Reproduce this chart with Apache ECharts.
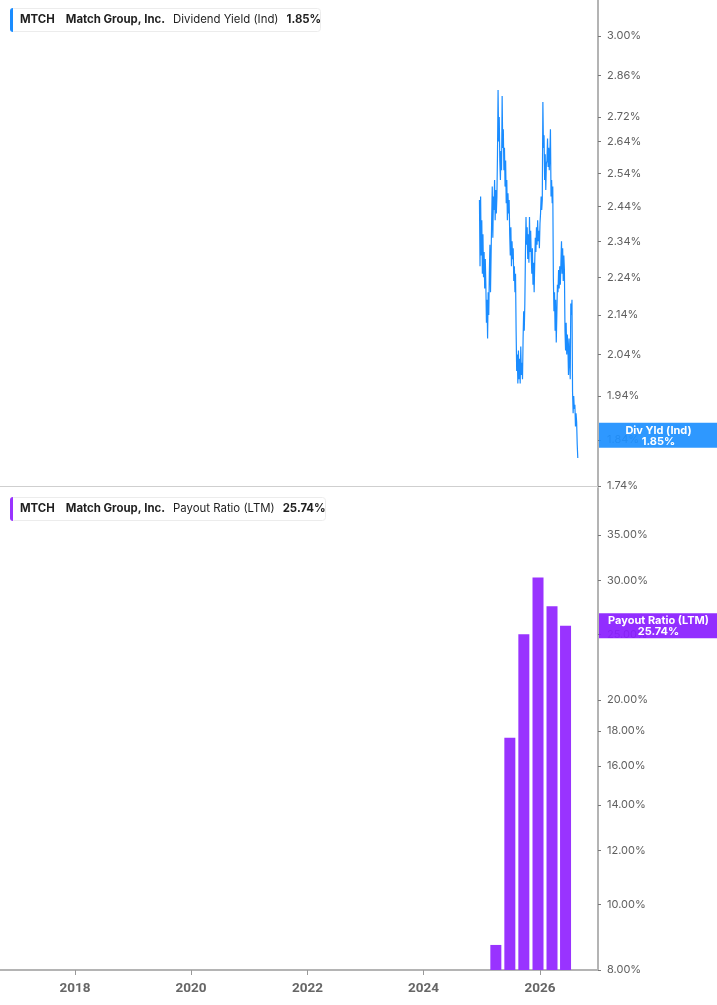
<!DOCTYPE html>
<html><head><meta charset="utf-8">
<script src="https://cdn.jsdelivr.net/npm/echarts@6/dist/echarts.min.js"></script>
<style>html,body{margin:0;padding:0;background:#fff}#c{width:717px;height:1005px}</style>
</head><body><div id="c"></div>
<script>
const ticker = 'MTCH';
const company = 'Match Group, Inc.';
const yieldName = 'Dividend Yield (Ind)';
const yieldShort = 'Div Yld (Ind)';
const yieldLatest = 1.85;
const payoutName = 'Payout Ratio (LTM)';
const payoutLatest = 25.74;

const yieldStart = '2024-12-17';
const yieldEnd = '2026-08-27';
const yieldValues = [
  2.46, 2.27, 2.47, 2.30, 2.40, 2.25, 2.36,
  2.24, 2.31, 2.21, 2.29,
  2.22, 2.12, 2.18, 2.08, 2.20, 2.14,
  2.25, 2.33, 2.20, 2.30,
  2.40, 2.50, 2.35, 2.47,
  2.43, 2.52, 2.40, 2.49, 2.42, 2.47,
  2.60, 2.81, 2.64, 2.72,
  2.58, 2.52, 2.61, 2.55,
  2.79, 2.62,
  2.68, 2.55, 2.62, 2.50, 2.58,
  2.45, 2.52, 2.40, 2.48, 2.42, 2.46,
  2.36, 2.30, 2.38, 2.27, 2.34, 2.29, 2.32,
  2.23, 2.27, 2.20, 2.25,
  2.10, 2.00, 2.04, 1.97,
  2.05, 1.98, 2.03, 1.97, 2.06, 1.99, 2.02, 1.98,
  2.08, 2.15, 2.10, 2.17,
  2.30, 2.41, 2.33, 2.38, 2.29,
  2.36, 2.28, 2.41, 2.31, 2.37, 2.30,
  2.25, 2.32, 2.22, 2.28, 2.20,
  2.28, 2.35, 2.31, 2.38, 2.33, 2.40, 2.34, 2.37, 2.32, 2.39,
  2.42, 2.47, 2.43, 2.46,
  2.77,
  2.62, 2.66, 2.52, 2.60, 2.49, 2.57,
  2.58, 2.65, 2.56, 2.62, 2.55, 2.60,
  2.68,
  2.47, 2.52, 2.45, 2.50,
  2.24, 2.15, 2.20, 2.10, 2.18, 2.07, 2.14, 2.22,
  2.20, 2.26, 2.21, 2.27, 2.22,
  2.28, 2.34, 2.25, 2.32, 2.23, 2.30, 2.26,
  2.10, 2.05, 2.12, 2.04, 2.09,
  2.06, 1.99, 2.08, 2.02, 1.98,
  2.17, 2.14, 2.18,
  1.95, 1.90, 1.94, 1.91,
  1.92, 1.87, 1.90, 1.88,
  1.83, 1.80
];

const payoutDates = ['2025-03-30', '2025-06-26', '2025-09-22', '2025-12-20', '2026-03-18', '2026-06-11'];
const payoutValues = [8.71, 17.6, 25.0, 30.3, 27.5, 25.74];

const yieldTicks = [1.74, 1.84, 1.94, 2.04, 2.14, 2.24, 2.34, 2.44, 2.54, 2.64, 2.72, 2.86, 3.00];
const payoutTicks = [8, 10, 12, 14, 16, 18, 20, 25, 30, 35];
const yearTicks = ['2018-01-01', '2020-01-01', '2022-01-01', '2024-01-01', '2026-01-01'];
const xMin = '2016-09-17';
const xMax = '2027-01-01';

const ts = d => +new Date(d + 'T00:00:00');
const t0 = ts(yieldStart);
const t1 = ts(yieldEnd);
const yieldData = yieldValues.map((v, i) => [t0 + i * (t1 - t0) / (yieldValues.length - 1), v]);
const payoutData = payoutDates.map((d, i) => [ts(d), payoutValues[i]]);
const yearTickNums = yearTicks.map(ts);

const FONT = 'Inter, "Noto Sans", sans-serif';
const BLUE = '#1a8cff';
const PURPLE = '#9933ff';

function legendTitle(top, color, name, value) {
  return {
    left: 10, top: top,
    text: '{bar|}{g1|}{b|' + ticker + '}{g2|}{b|' + company + '}{g3|}{n|' + name + '}{g3|}{b|' + value + '}{g4|}',
    backgroundColor: '#fff',
    borderColor: '#ececec', borderWidth: 1, borderRadius: 3,
    padding: 0,
    textStyle: {
      rich: {
        bar: { width: 3, height: 24, backgroundColor: color, borderRadius: [3, 0, 0, 3] },
        g1: { width: 7 }, g2: { width: 11 }, g3: { width: 8 }, g4: { width: 7 },
        b: { fontFamily: FONT, fontSize: 11.4, fontWeight: 'bold', color: '#1f1f1f' },
        n: { fontFamily: FONT, fontSize: 11.4, fontWeight: 'normal', color: '#1f1f1f' }
      }
    }
  };
}

function yAxis(gridIndex, min, max, ticks) {
  return {
    type: 'log', logBase: 10, position: 'right', gridIndex: gridIndex, min: min, max: max,
    axisLine: { show: true, lineStyle: { color: '#b4b4b4', width: 2 } },
    axisTick: { show: true, length: 3, customValues: ticks, lineStyle: { color: '#777' } },
    splitLine: { show: false },
    axisLabel: { color: '#5f5f5f', fontFamily: FONT, fontSize: 11, margin: 9, customValues: ticks,
      formatter: v => (+v).toFixed(2) + '%' }
  };
}

function endLabel(title, value, bg) {
  return {
    silent: true, symbol: 'none',
    lineStyle: { color: 'rgba(0,0,0,0)', width: 1, type: 'solid' },
    data: [{ yAxis: value }],
    label: { show: true, position: 'end', distance: 1,
      formatter: '{a|' + title + '}\n{a|' + value.toFixed(2) + '%}',
      backgroundColor: bg, padding: [2, 0, 1, 0],
      rich: { a: { width: 119, align: 'center', color: '#fff', fontFamily: FONT, fontWeight: 'bold', fontSize: 11, lineHeight: 11 } } }
  };
}

const option = {
  animation: false,
  title: [
    legendTitle(8, BLUE, yieldName, yieldLatest.toFixed(2) + '%'),
    legendTitle(497, PURPLE, payoutName, payoutLatest.toFixed(2) + '%')
  ],
  grid: [
    { left: 0, right: 119, top: 0, height: 486 },
    { left: 0, right: 119, top: 488, bottom: 35 }
  ],
  xAxis: [
    { type: 'value', gridIndex: 0, min: ts(xMin), max: ts(xMax),
      axisLine: { show: true, onZero: false, lineStyle: { color: '#cfcfcf', width: 1 } },
      axisTick: { show: false }, axisLabel: { show: false }, splitLine: { show: false } },
    { type: 'value', gridIndex: 1, min: ts(xMin), max: ts(xMax),
      axisLine: { show: true, onZero: false, lineStyle: { color: '#b4b4b4', width: 2 } },
      axisTick: { show: true, length: 5, customValues: yearTickNums, lineStyle: { color: '#999' } },
      axisLabel: { show: true, customValues: yearTickNums, color: '#666', fontFamily: 'Roboto, sans-serif',
        fontWeight: 'bold', fontSize: 13.5, margin: 12,
        formatter: v => String(new Date(v).getFullYear()) },
      splitLine: { show: false } }
  ],
  yAxis: [
    yAxis(0, 1.74, 3.1336, yieldTicks),
    yAxis(1, 8, 41.07, payoutTicks)
  ],
  series: [
    { type: 'line', xAxisIndex: 0, yAxisIndex: 0, data: yieldData, showSymbol: false,
      lineStyle: { color: BLUE, width: 1.2 }, itemStyle: { color: BLUE },
      markLine: endLabel(yieldShort, yieldLatest, 'rgba(30,144,255,0.93)') },
    { type: 'bar', xAxisIndex: 1, yAxisIndex: 1, data: payoutData, barWidth: 11,
      itemStyle: { color: PURPLE },
      markLine: endLabel(payoutName, payoutLatest, 'rgba(138,30,255,0.93)') }
  ]
};

const chart = echarts.init(document.getElementById('c'), null, { renderer: 'canvas' });
chart.setOption(option);
</script>
</body></html>
